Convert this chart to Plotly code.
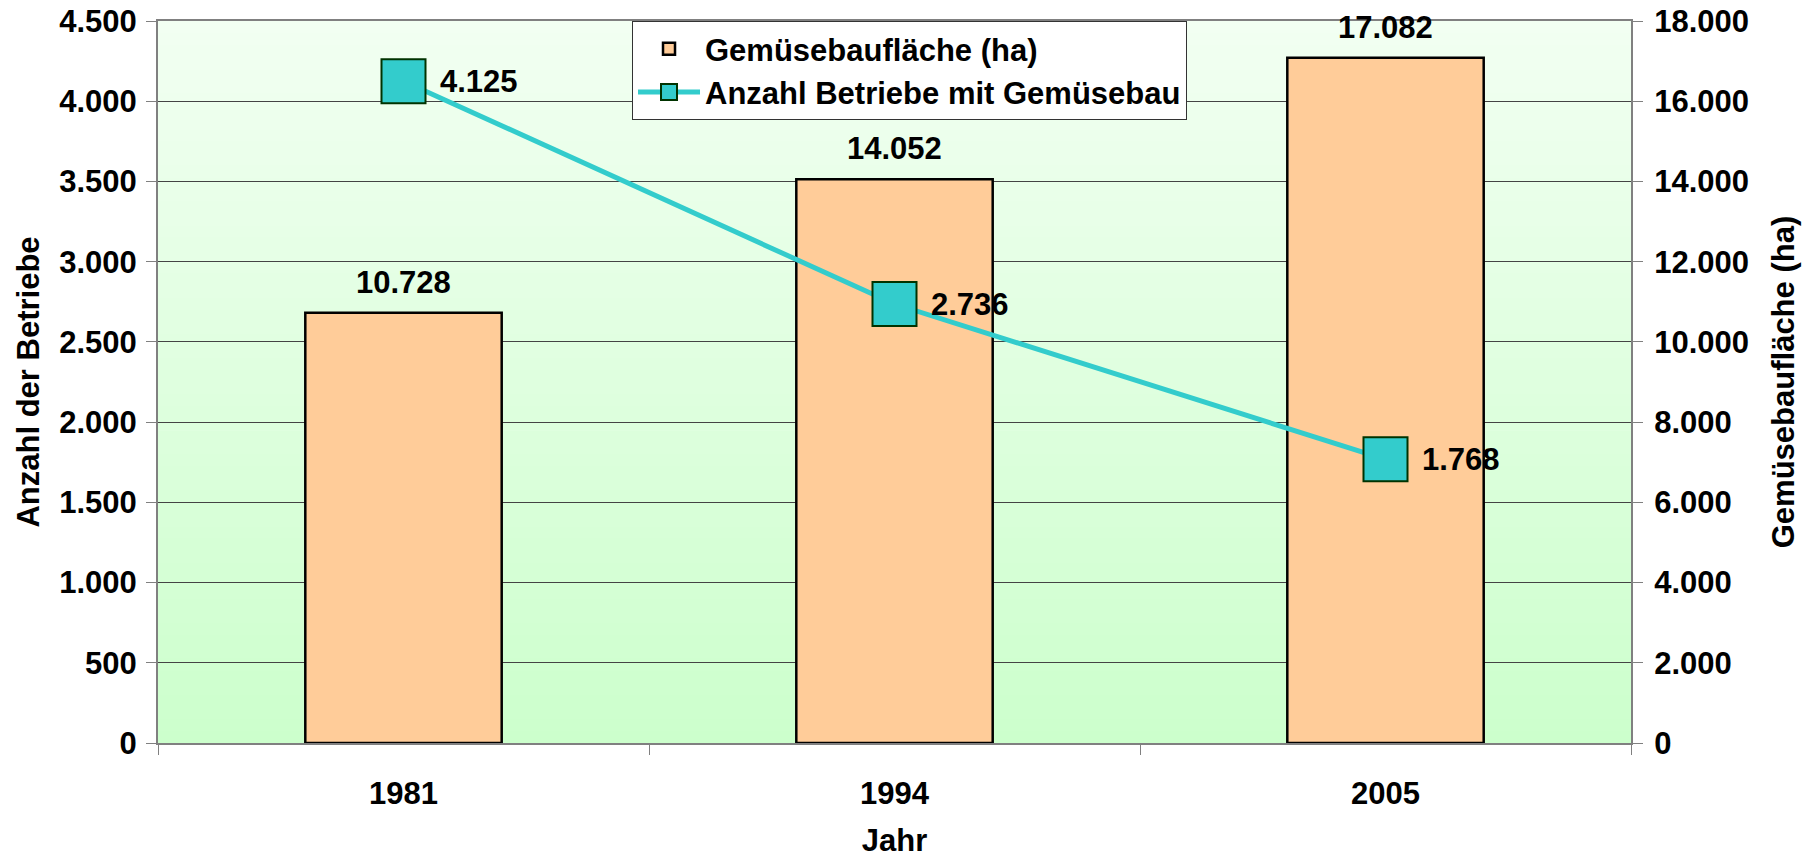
import plotly.graph_objects as go

years = ["1981", "1994", "2005"]
flaeche_ha = [10728, 14052, 17082]
betriebe = [4125, 2736, 1768]

left_ticks = list(range(0, 4501, 500))
right_ticks = list(range(0, 18001, 2000))

FONT = "Liberation Sans, Arial, sans-serif"
FS = 31


def de(v):
    return f"{v:,}".replace(",", ".")


fig = go.Figure()

fig.add_trace(go.Bar(
    x=years, y=flaeche_ha, name="Gemüsebaufläche (ha)",
    marker=dict(color="#FFCC99", line=dict(color="#000000", width=2.5)),
    width=0.4, yaxis="y", xaxis="x",
))

fig.add_trace(go.Scatter(
    x=years, y=betriebe, name="Anzahl Betriebe mit Gemüsebau",
    mode="lines+markers", yaxis="y2",
    line=dict(color="#33CCCC", width=5),
    marker=dict(symbol="square", size=44, color="#33CCCC",
                line=dict(color="#003300", width=2)),
))

label_font = dict(family=FONT, size=FS, color="#000000", weight="bold")
annotations = []
for i, v in enumerate(flaeche_ha):
    annotations.append(dict(
        x=i, y=v, xref="x", yref="y", text=de(v), showarrow=False,
        yanchor="bottom", yshift=11, font=label_font,
    ))
for i, v in enumerate(betriebe):
    annotations.append(dict(
        x=i, y=v, xref="x", yref="y2", text=de(v), showarrow=False,
        xanchor="left", yanchor="middle", xshift=34, font=label_font,
    ))

# background gradient
shapes = []
N = 60
top = (0xF2, 0xFF, 0xF2)
bot = (0xCC, 0xFF, 0xCC)
for i in range(N):
    t = (i + 0.5) / N
    c = tuple(round(top[k] + (bot[k] - top[k]) * t) for k in range(3))
    shapes.append(dict(
        type="rect", xref="paper", yref="paper",
        x0=0, x1=1, y0=1 - (i + 1) / N - 0.001, y1=1 - i / N,
        fillcolor="rgb(%d,%d,%d)" % c, line=dict(width=0), layer="below",
    ))

axis_font = dict(family=FONT, size=FS, color="#000000", weight="bold")

fig.update_layout(
    width=1816, height=858,
    margin=dict(l=158, r=185, t=21, b=115, autoexpand=False),
    paper_bgcolor="#FFFFFF", plot_bgcolor="rgba(0,0,0,0)",
    separators=",.",
    font=dict(family=FONT, size=FS, color="#000000", weight="bold"),
    showlegend=True,
    legend=dict(
        x=0.3218, y=1.0, xanchor="left", yanchor="top",
        bgcolor="#FFFFFF", bordercolor="#333333", borderwidth=1,
        font=dict(family=FONT, size=FS, color="#000000", weight="bold"),
        tracegroupgap=0, itemwidth=62,
    ),
    xaxis=dict(
        type="category", range=[-0.5, 2.5], automargin=False,
        showgrid=False, showline=True, linecolor="#808080", mirror=True,
        linewidth=1.5, ticks="outside", tickson="boundaries", ticklen=10,
        tickcolor="#808080", tickfont=axis_font, ticklabelstandoff=22,
        tickangle=0,
        title=dict(text="Jahr", font=axis_font, standoff=20),
    ),
    yaxis=dict(
        side="right", range=[0, 18000], tickvals=right_ticks,
        ticktext=[de(v) for v in right_ticks], automargin=False,
        showgrid=True, gridcolor="#444444", gridwidth=1,
        showline=True, linecolor="#808080", linewidth=2,
        ticks="outside", ticklen=10, tickcolor="#808080",
        tickfont=axis_font, ticklabelstandoff=5, zeroline=False,
        ticklabeloverflow="allow",
        title=dict(text="Gemüsebaufläche (ha)", font=axis_font, standoff=24),
    ),
    yaxis2=dict(
        side="left", overlaying="y", range=[0, 4500], tickvals=left_ticks,
        ticktext=[de(v) for v in left_ticks], automargin=False,
        showgrid=False, showline=True, linecolor="#808080", linewidth=2,
        ticks="outside", ticklen=10, tickcolor="#808080",
        tickfont=axis_font, ticklabelstandoff=3, zeroline=False,
        ticklabeloverflow="allow",
        title=dict(text="Anzahl der Betriebe", font=axis_font, standoff=10),
    ),
    annotations=annotations,
    shapes=shapes,
)

fig.write_html(
    "out.html",
    config={"displayModeBar": False},
    post_script="document.body.style.margin='0';document.body.style.overflow='hidden';",
)
